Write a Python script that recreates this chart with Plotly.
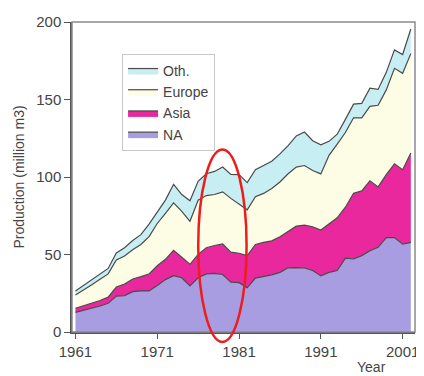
import plotly.graph_objects as go

years = list(range(1961, 2003))

na = [12.7, 14.0, 15.3, 16.8, 18.5, 23.2, 23.5, 26.0, 26.5, 26.5,
      30.0, 33.8, 36.3, 35.0, 29.8, 35.0, 37.5, 37.8, 37.1, 32.2,
      31.8, 28.5, 34.8, 35.8, 36.9, 38.5, 41.4, 41.5, 41.3, 39.7,
      36.2, 38.5, 39.7, 47.6, 47.1, 49.3, 52.4, 54.6, 60.9, 60.9,
      56.7, 57.8]
asia = [2.6, 2.8, 3.2, 3.5, 4.0, 5.8, 7.5, 8.2, 9.2, 10.9,
        12.7, 13.1, 16.4, 13.4, 13.9, 15.1, 16.9, 18.0, 19.7, 19.3,
        19.0, 20.8, 21.7, 22.0, 21.9, 23.0, 23.6, 26.8, 27.7, 28.2,
        29.6, 31.3, 34.0, 32.9, 42.4, 41.7, 45.1, 39.0, 40.6, 47.6,
        48.0, 57.7]
europe = [8.5, 10.2, 12.0, 13.7, 15.0, 17.5, 18.0, 18.8, 20.8, 24.1,
          27.3, 29.7, 30.6, 29.4, 27.7, 34.9, 33.6, 32.9, 33.6, 34.7,
          31.7, 29.5, 30.8, 31.6, 33.8, 35.3, 37.1, 38.1, 38.4, 36.3,
          36.2, 44.2, 47.5, 48.2, 48.7, 47.2, 48.1, 52.7, 54.7, 61.6,
          62.2, 64.1]
oth = [2.7, 3.0, 3.3, 3.4, 3.5, 4.5, 5.4, 6.0, 6.3, 8.1,
       7.7, 8.5, 12.0, 10.9, 13.3, 12.2, 14.1, 14.9, 16.0, 15.5,
       19.0, 17.6, 17.4, 18.0, 17.6, 18.1, 18.1, 20.1, 21.6, 19.2,
       18.8, 9.0, 6.4, 8.5, 8.8, 9.3, 11.7, 10.2, 11.3, 11.9,
       12.1, 15.9]

series_names = ["NA", "Asia", "Europe", "Oth."]
series_values = [na, asia, europe, oth]
series_colors = ["#a99de2", "#e8289c", "#fdfde6", "#c6eef3"]

tick_years = [1961, 1971, 1981, 1991, 2001]
y_ticks = [0, 50, 100, 150, 200]

FONT = "Liberation Sans, Arial, sans-serif"

fig = go.Figure()
for name, vals, col in zip(series_names, series_values, series_colors):
    fig.add_trace(go.Scatter(
        x=years, y=vals, name=name, mode="lines",
        stackgroup="one",
        line=dict(color="#4a4a4a", width=1.2),
        fillcolor=col,
    ))

fig.update_layout(
    width=416, height=368,
    margin=dict(l=64, r=5, t=10, b=44),
    paper_bgcolor="white", plot_bgcolor="white",
    font=dict(family=FONT, size=14, color="#444"),
    showlegend=True,
    legend=dict(
        x=0.146, y=0.897, xanchor="left", yanchor="top",
        traceorder="reversed",
        bgcolor="white", bordercolor="#c8c8c8", borderwidth=1,
        font=dict(family=FONT, size=14, color="#444"),
        itemwidth=30,
        tracegroupgap=0,
    ),
    xaxis=dict(
        range=[1960.58, 2002.51],
        tickmode="array", tickvals=tick_years,
        ticktext=[str(t) for t in tick_years],
        ticks="outside", ticklen=5, tickcolor="#555", tickwidth=1.2,
        showline=True, linecolor="#555", linewidth=1.5,
        showgrid=False, zeroline=False,
        tickfont=dict(family=FONT, size=15, color="#444"),
    ),
    yaxis=dict(
        range=[0, 200],
        tickmode="array", tickvals=y_ticks,
        ticks="outside", ticklen=6, tickcolor="#555", tickwidth=1.2,
        showline=True, linecolor="#555", linewidth=1.5,
        showgrid=False, zeroline=False,
        tickfont=dict(family=FONT, size=15, color="#444"),
        title=dict(text="Production (million m3)",
                   font=dict(family=FONT, size=14, color="#444"),
                   standoff=8),
    ),
    shapes=[
        dict(type="rect", xref="paper", yref="paper", x0=0, x1=1, y0=0, y1=1,
             line=dict(color="#8a8a8a", width=1.5), layer="above"),
        dict(type="circle", xref="paper", yref="paper",
             x0=0.368, x1=0.509, y0=-0.032, y1=0.589,
             line=dict(color="#ee1c1c", width=2.5), layer="above"),
    ],
    annotations=[
        dict(text="Year", xref="paper", yref="paper", x=0.873, y=-0.082,
             xanchor="center", yanchor="top", showarrow=False,
             font=dict(family=FONT, size=14, color="#444")),
    ],
)

fig.write_html("out.html")
